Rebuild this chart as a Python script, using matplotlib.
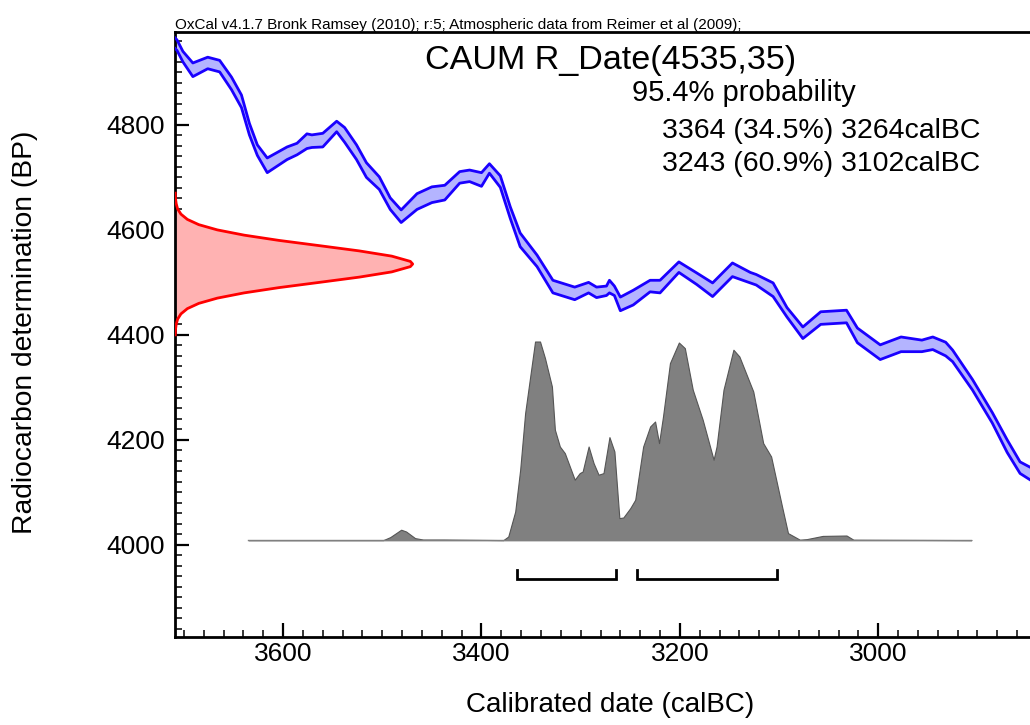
import numpy as np
import matplotlib
matplotlib.use('Agg')
import matplotlib.pyplot as plt
from matplotlib.ticker import MultipleLocator
from matplotlib.transforms import blended_transform_factory

plt.rcParams['font.family'] = ['Liberation Sans', 'DejaVu Sans']

#####################################################################
# Data
#####################################################################
# calibration curve: year (calBC), radiocarbon age (BP), 1-sigma error
curve_year = [3712, 3707, 3701, 3691, 3676, 3664, 3652, 3642, 3634, 3626, 3616,
              3596, 3586, 3576, 3571, 3560, 3546, 3538, 3526, 3516, 3503, 3492,
              3481, 3465, 3450, 3437, 3422, 3412, 3400, 3392, 3381, 3371, 3361,
              3344, 3328, 3306, 3292, 3284, 3274, 3271, 3266, 3260, 3247, 3230,
              3220, 3201, 3183, 3167, 3147, 3129, 3123, 3106, 3092, 3076, 3058,
              3032, 3021, 2998, 2977, 2956, 2945, 2932, 2925, 2905, 2885, 2870,
              2857, 2847]
curve_bp = [4962, 4952, 4930, 4905, 4918, 4912, 4879, 4845, 4792, 4752, 4723,
            4746, 4754, 4769, 4769, 4771, 4797, 4781, 4748, 4714, 4689, 4650,
            4626, 4654, 4667, 4671, 4700, 4703, 4696, 4717, 4692, 4633, 4581,
            4541, 4492, 4479, 4490, 4481, 4484, 4492, 4484, 4459, 4471, 4493,
            4492, 4529, 4507, 4486, 4524, 4509, 4505, 4486, 4443, 4404, 4432,
            4435, 4399, 4367, 4382, 4379, 4384, 4373, 4360, 4305, 4242, 4188,
            4147, 4136]
curve_err = [10, 10, 10, 13, 11, 11, 12, 12, 11, 10, 14,
             12, 11, 14, 12, 13, 10, 14, 14, 14, 12, 11,
             12, 15, 15, 14, 11, 11, 13, 9, 11, 11, 13,
             11, 12, 12, 10, 10, 9, 12, 9, 13, 14, 11,
             12, 10, 11, 13, 13, 10, 10, 13, 9, 11, 12,
             12, 14, 14, 14, 11, 12, 13, 11, 10, 10, 12,
             11, 12]

# radiocarbon measurement R_Date(4535,35): BP and relative likelihood
date_bp = [4400, 4410, 4420, 4430, 4440, 4450, 4460, 4470, 4480, 4490, 4500,
           4510, 4520, 4530, 4535, 4540, 4550, 4560, 4570, 4580, 4590, 4600,
           4610, 4620, 4630, 4640, 4650, 4660, 4670]
date_prob = [0.001, 0.002, 0.005, 0.011, 0.025, 0.052, 0.10, 0.178, 0.291, 0.437, 0.607,
             0.775, 0.912, 0.990, 1.0, 0.990, 0.912, 0.775, 0.607, 0.437, 0.291, 0.178,
             0.10, 0.052, 0.025, 0.011, 0.005, 0.002, 0.001]

# calibrated posterior: year (calBC) and relative probability
post_year = [3635, 3499, 3492, 3481, 3476, 3467, 3459, 3439, 3378, 3373, 3366,
             3361, 3356, 3346, 3341, 3336, 3329, 3326, 3321, 3316, 3306, 3301,
             3298, 3292, 3287, 3282, 3277, 3271, 3266, 3261, 3257, 3250, 3245,
             3237, 3230, 3225, 3221, 3217, 3210, 3201, 3195, 3187, 3177, 3166,
             3163, 3156, 3146, 3140, 3126, 3116, 3108, 3097, 3091, 3079, 3072,
             3056, 3032, 3025, 2906]
post_prob = [0, 0, 0.015, 0.052, 0.043, 0.010, 0.003, 0.003, 0, 0.018, 0.143,
             0.352, 0.635, 0.993, 0.993, 0.910, 0.768, 0.552, 0.468, 0.435, 0.302, 0.335,
             0.343, 0.468, 0.385, 0.327, 0.335, 0.515, 0.443, 0.110, 0.113, 0.160, 0.202,
             0.468, 0.568, 0.593, 0.485, 0.618, 0.885, 0.988, 0.960, 0.752, 0.602, 0.402,
             0.468, 0.752, 0.952, 0.918, 0.743, 0.485, 0.418, 0.168, 0.035, 0.002, 0.005,
             0.021, 0.023, 0.002, 0]

# 95.4% ranges
range_from = [3364, 3243]
range_to = [3264, 3102]
range_pct = [34.5, 60.9]

#####################################################################
# Plot
#####################################################################
W, H = 1030, 725
fig = plt.figure(figsize=(W / 100, H / 100), dpi=100)
ax = fig.add_axes([175 / W, 88.3 / H, 855 / W, 604.7 / H])

# calibration curve band
yr = np.array(curve_year)
bp = np.array(curve_bp)
err = np.array(curve_err)
ax.fill_between(yr, bp - err, bp + err, color='#b4b4ff', lw=0, zorder=2)
ax.plot(yr, bp + err, color='#1a00ff', lw=2, zorder=3)
ax.plot(yr, bp - err, color='#1a00ff', lw=2, zorder=3)

# measurement on the y axis
tr = blended_transform_factory(ax.transAxes, ax.transData)
dx = np.array(date_prob) * 0.278
ax.fill_betweenx(date_bp, 0, dx, transform=tr, color='#ffb2b2', lw=0, zorder=2)
ax.plot(dx, date_bp, transform=tr, color='#ff0000', lw=2, zorder=3)

# posterior distribution
post_base = 4009
post_height = 381
py = post_base + np.array(post_prob) * post_height
ax.fill_between(post_year, post_base, py, facecolor='#808080',
                edgecolor='#555555', lw=0.8, zorder=2)
ax.plot([post_year[0], post_year[-1]], [post_base, post_base],
        color='#808080', lw=1, zorder=2)

# range brackets
for a, b in zip(range_from, range_to):
    ax.plot([a, a, b, b], [3952, 3935, 3935, 3952], color='black', lw=2,
            solid_joinstyle='miter', zorder=3)

ax.set_xlim(3709, 2847)
ax.set_ylim(3825, 4977)
ax.xaxis.set_major_locator(MultipleLocator(200))
ax.xaxis.set_minor_locator(MultipleLocator(20))
ax.yaxis.set_major_locator(MultipleLocator(200))
ax.yaxis.set_minor_locator(MultipleLocator(20))
ax.tick_params(which='both', direction='in', top=False, right=False,
               colors='black', labelsize=19)
ax.tick_params(which='major', length=10, width=1.6)
ax.tick_params(which='minor', length=5, width=1.1)
ax.tick_params(axis='x', pad=4)
ax.tick_params(axis='y', pad=7)
for s in ['left', 'bottom', 'top']:
    ax.spines[s].set_linewidth(2)
ax.spines['right'].set_visible(False)

# texts
fig.text(175 / W, 1 - 29 / H,
         'OxCal v4.1.7 Bronk Ramsey (2010); r:5; Atmospheric data from Reimer et al (2009);',
         fontsize=11, va='baseline', ha='left')
fig.text(611 / W, 1 - 60 / H, 'CAUM R_Date(4535,35)', fontsize=24.6,
         ha='center', va='center')
fig.text(632 / W, 1 - 93 / H, '95.4% probability', fontsize=21,
         ha='left', va='center')
for i in range(len(range_from)):
    fig.text(662 / W, 1 - (131 + 33 * i) / H,
             '%d (%.1f%%) %dcalBC' % (range_from[i], range_pct[i], range_to[i]),
             fontsize=20.5, ha='left', va='center')
fig.text(25 / W, 1 - 332 / H, 'Radiocarbon determination (BP)', fontsize=20.3,
         rotation=90, ha='center', va='center')
fig.text(610 / W, 1 - 705 / H, 'Calibrated date (calBC)', fontsize=20,
         ha='center', va='center')

fig.savefig('out.png', dpi=100)
